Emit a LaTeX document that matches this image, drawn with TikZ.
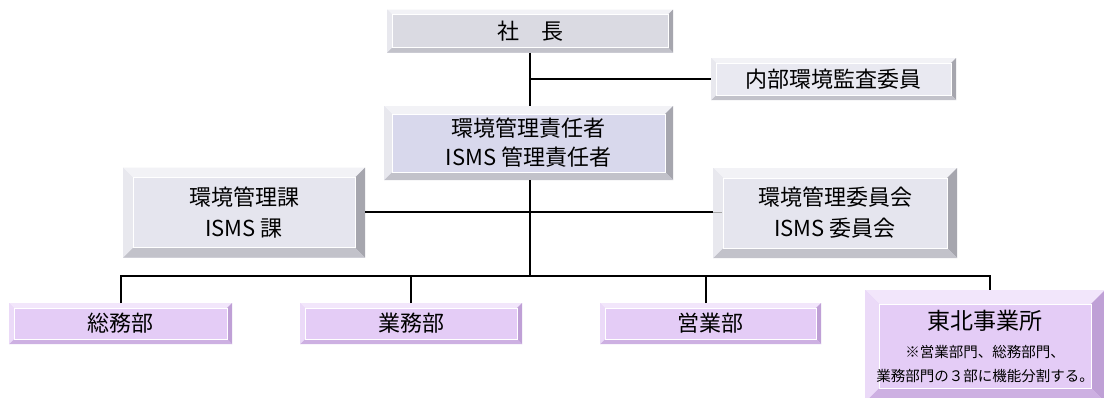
\documentclass[tikz,border=0pt]{standalone}
\usepackage{fontspec}
\setmainfont{Noto Sans CJK JP}
\usetikzlibrary{calc}
\definecolor{gTop}{HTML}{F2F2F6}
\definecolor{gLeft}{HTML}{E8E8EE}
\definecolor{gRight}{HTML}{A6A6AE}
\definecolor{gBot}{HTML}{C2C2CA}
\definecolor{ceoFill}{HTML}{DADAE2}
\definecolor{mgrFill}{HTML}{D8D8EC}
\definecolor{kaFill}{HTML}{E5E5EE}
\definecolor{audFill}{HTML}{E9E9F1}
\definecolor{pTop}{HTML}{F2E6FB}
\definecolor{pLeft}{HTML}{EBDAF8}
\definecolor{pRight}{HTML}{BFA0D6}
\definecolor{pBot}{HTML}{CDB0E2}
\definecolor{pFill}{HTML}{E4CCF6}
\tikzset{
  box/.style={inner sep=0pt,outer sep=0pt,align=center,text=black},
  conn/.style={line width=1.6pt,black},
  bev/.style n args={5}{path picture={
    \fill[#2] (path picture bounding box.north west) -- (path picture bounding box.north east)
      -- ($(path picture bounding box.north east)+(-#1pt,-#1pt)$) -- ($(path picture bounding box.north west)+(#1pt,-#1pt)$) -- cycle;
    \fill[#3] (path picture bounding box.north east) -- (path picture bounding box.south east)
      -- ($(path picture bounding box.south east)+(-#1pt,#1pt)$) -- ($(path picture bounding box.north east)+(-#1pt,-#1pt)$) -- cycle;
    \fill[#4] (path picture bounding box.south east) -- (path picture bounding box.south west)
      -- ($(path picture bounding box.south west)+(#1pt,#1pt)$) -- ($(path picture bounding box.south east)+(-#1pt,#1pt)$) -- cycle;
    \fill[#5] (path picture bounding box.south west) -- (path picture bounding box.north west)
      -- ($(path picture bounding box.north west)+(#1pt,-#1pt)$) -- ($(path picture bounding box.south west)+(#1pt,#1pt)$) -- cycle;
    \draw[white,line width=0.8pt] ($(path picture bounding box.north west)+(#1pt,-#1pt)$) rectangle ($(path picture bounding box.south east)+(-#1pt,#1pt)$);
  }},
  gbev/.style={bev={#1}{gTop}{gRight}{gBot}{gLeft}},
  pbev/.style={bev={#1}{pTop}{pRight}{pBot}{pLeft}},
  big/.style={font=\fontsize{22}{26}\selectfont},
}
\begin{document}
\begin{tikzpicture}[x=1pt,y=-1pt]
\useasboundingbox[fill=white] (0,0) rectangle (1104,397);
% nodes
\node[box,big,fill=ceoFill,gbev=5,minimum width=286pt,minimum height=43pt] (ceo) at (530,31) {社　長};
\node[box,big,fill=audFill,gbev=5,minimum width=245pt,minimum height=42pt] (audit) at (833.5,79) {内部環境監査委員};
\node[box,fill=mgrFill,gbev=8,minimum width=289pt,minimum height=74pt,font=\fontsize{22}{29}\selectfont] (mgr) at (528.5,143) {環境管理責任者\\ISMS 管理責任者};
\node[box,fill=kaFill,gbev=10,minimum width=242pt,minimum height=90pt,font=\fontsize{22}{31}\selectfont] (ka) at (244,212.5) {環境管理課\\ISMS 課};
\node[box,fill=kaFill,gbev=10,minimum width=244pt,minimum height=90pt,font=\fontsize{22}{31}\selectfont] (iinkai) at (835,213) {環境管理委員会\\ISMS 委員会};
\node[box,big,fill=pFill,pbev=5,minimum width=223pt,minimum height=41pt] (soumu) at (120.5,323.5) {総務部};
\node[box,big,fill=pFill,pbev=5,minimum width=222pt,minimum height=41pt] (gyomu) at (411,323.5) {業務部};
\node[box,big,fill=pFill,pbev=5,minimum width=221pt,minimum height=41pt] (eigyo) at (710.5,323.5) {営業部};
\node[box,fill=pFill,pbev=14,minimum width=240pt,minimum height=112pt,font=\fontsize{14.5}{24}\selectfont] (tohoku) at (985,346)
  {{\fontsize{23}{28}\selectfont 東北事業所}\\[4pt]※営業部門、総務部門、\\業務部門の３部に機能分割する。};
% connectors
\coordinate (trunk) at (530,79);
\coordinate (bus) at (530,276);
\coordinate (td) at (990,276);
\coordinate (ed) at (706,276);
\coordinate (gd) at (411,276);
\coordinate (sd) at (121,276);
\coordinate (hy) at (0,212);
\draw[conn] (ceo.south -| trunk) -- (trunk |- mgr.north);
\draw[conn] (trunk) -- (audit.west);
\draw[conn] (mgr.south -| bus) -- (bus);
\draw[conn] (ka.east |- hy) -- (iinkai.west |- hy);
\draw[gray!70,line width=1pt] (iinkai.west |- hy) -- ++(9,0);
\draw[conn] (sd |- soumu.north) -- (sd) -- (td) -- (td |- tohoku.north);
\draw[conn] (gd |- gyomu.north) -- (gd);
\draw[conn] (ed |- eigyo.north) -- (ed);
\end{tikzpicture}
\end{document}
